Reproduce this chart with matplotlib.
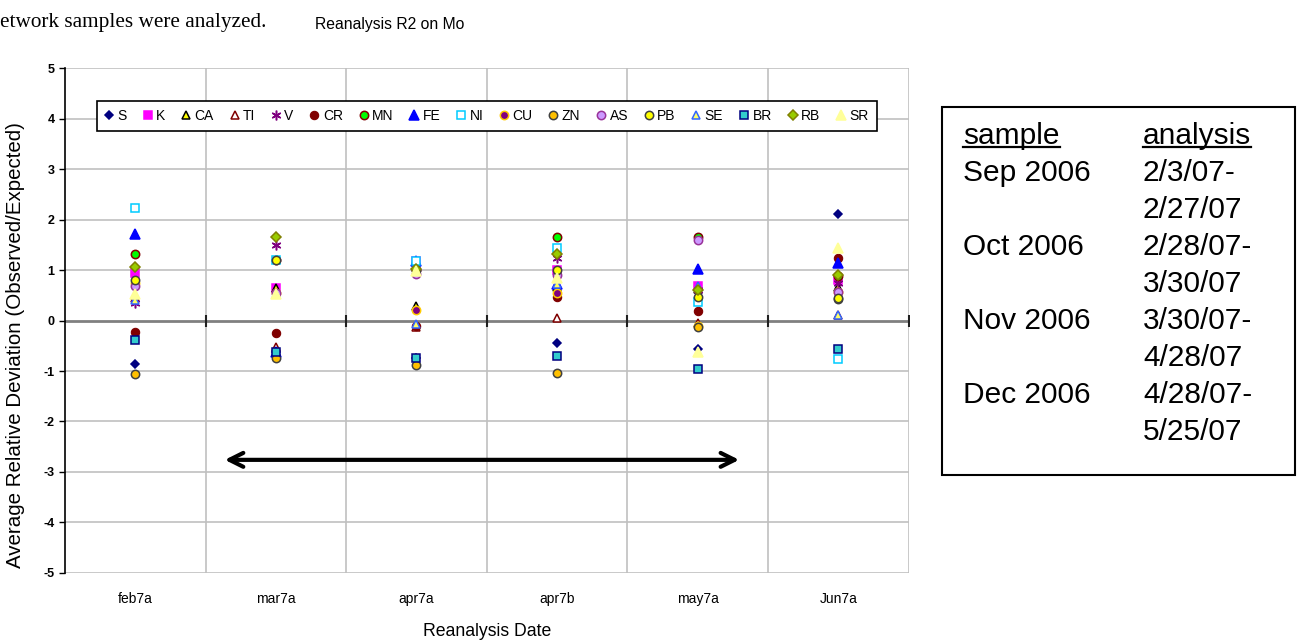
import numpy as np
import matplotlib
matplotlib.use('Agg')
import matplotlib.pyplot as plt
from matplotlib.patches import Rectangle
from matplotlib.lines import Line2D

plt.rcParams['font.family'] = ['Liberation Sans', 'DejaVu Sans']

dates = ['feb7a', 'mar7a', 'apr7a', 'apr7b', 'may7a', 'Jun7a']

# values, one list per element
S  = [-0.86, -0.62, -0.74, -0.45, -0.57, 2.11]
K  = [0.95, 0.64, 1.18, 1.01, 0.68, 0.80]
CA = [0.50, 0.64, 0.28, 0.66, 0.62, 0.67]
TI = [0.45, -0.52, -0.12, 0.05, -0.04, 0.11]
V  = [0.35, 1.49, 0.95, 1.23, 0.60, 0.75]
CR = [-0.22, -0.25, -0.10, 0.46, 0.19, 1.24]
MN = [1.31, 1.20, 1.00, 1.65, 1.66, 0.88]
FE = [1.71, -0.62, 1.18, 0.72, 1.02, 1.13]
NI = [2.22, 1.20, 1.18, 1.43, 0.36, -0.77]
CU = [0.75, 0.55, 0.20, 0.54, -0.10, 0.57]
ZN = [-1.05, -0.75, -0.88, -1.03, -0.12, 0.42]
AS = [0.68, 0.55, 0.92, 0.90, 1.59, 0.57]
PB = [0.80, 1.20, 1.00, 1.00, 0.47, 0.45]
SE = [0.41, 0.52, -0.07, 0.72, 0.68, 0.11]
BR = [-0.38, -0.62, -0.74, -0.70, -0.97, -0.57]
RB = [1.07, 1.66, 1.02, 1.32, 0.60, 0.90]
SR = [0.52, 0.52, 0.98, 0.84, -0.62, 1.43]

series = [('S', S), ('K', K), ('CA', CA), ('TI', TI), ('V', V), ('CR', CR),
          ('MN', MN), ('FE', FE), ('NI', NI), ('CU', CU), ('ZN', ZN),
          ('AS', AS), ('PB', PB), ('SE', SE), ('BR', BR), ('RB', RB), ('SR', SR)]

# marker, face, edge, size
styles = {
    'S':  ('D', '#000080', '#000080', 4.5),
    'K':  ('s', '#FF00FF', '#FF00FF', 5.5),
    'CA': ('^', '#FFFF00', '#000000', 6),
    'TI': ('^', '#FFFFFF', '#800000', 6),
    'V':  ((6, 2, 0), '#800080', '#800080', 7),
    'CR': ('o', '#800000', '#800000', 6),
    'MN': ('o', '#00FF00', '#800000', 6),
    'FE': ('^', '#0000FF', '#0000FF', 6.5),
    'NI': ('s', '#FFFFFF', '#00CCFF', 5.5),
    'CU': ('o', '#800080', '#FFCC00', 6),
    'ZN': ('o', '#FFC000', '#404040', 6),
    'AS': ('o', '#CC99FF', '#993399', 6),
    'PB': ('o', '#FFFF00', '#404040', 6),
    'SE': ('^', '#FFFF66', '#3366FF', 6),
    'BR': ('s', '#33CCCC', '#000080', 5.5),
    'RB': ('D', '#99CC00', '#808000', 5),
    'SR': ('^', '#FFFF99', '#FFFF99', 6.5),
}

fig = plt.figure(figsize=(12.98, 6.43), dpi=100)
ax = fig.add_axes([0.050, 0.109, 0.650, 0.785])

x = np.arange(1, len(dates) + 1)
for i, (name, vals) in enumerate(series):
    m, fc, ec, ms = styles[name]
    ax.plot(x, vals, linestyle='none', marker=m, markerfacecolor=fc,
            markeredgecolor=ec, markersize=ms, markeredgewidth=1.1 if m != 'o' or fc != ec else 0.8,
            label=name, zorder=3 + i)

ax.set_xlim(0.5, len(dates) + 0.5)
ax.set_ylim(-5, 5)
ax.set_yticks(np.arange(-5, 6))
ax.set_yticklabels([str(v) for v in range(-5, 6)], fontweight='bold', fontsize=9)
ax.set_xticks(x)
ax.set_xticklabels(dates, fontsize=10)
ax.tick_params(axis='x', length=0, pad=14)
ax.tick_params(axis='y', length=4, direction='out', width=1)

# gridlines
for yv in range(-5, 6):
    if yv != 0:
        ax.axhline(yv, color='#c0c0c0', lw=1.2, zorder=0)
for xv in np.arange(1.5, len(dates) + 0.6, 1):
    ax.axvline(xv, color='#c0c0c0', lw=1.2, zorder=0)
ax.axhline(0, color='#808080', lw=2, zorder=1)
ax.plot(np.arange(1.5, len(dates) + 0.6, 1), np.zeros(len(dates)), linestyle='none',
        marker='|', markersize=9, color='#202020', markeredgewidth=1.5, zorder=2)

for sp in ['top', 'right', 'bottom']:
    ax.spines[sp].set_visible(False)
ax.spines['left'].set_color('black')
ax.spines['left'].set_linewidth(1.2)

ax.set_ylabel('Average Relative Deviation (Observed/Expected)', fontsize=14.8)
ax.yaxis.label.set_verticalalignment('center')
ax.yaxis.set_label_coords(-0.059, 0.452)
ax.set_xlabel('Reanalysis Date', fontsize=12.7, labelpad=12)

leg = ax.legend(loc='center', bbox_to_anchor=(0.0296, 0.851, 0.941, 0.109), mode='expand',
                ncol=17, fontsize=10, frameon=True, fancybox=False, framealpha=1,
                edgecolor='black', handlelength=0.6, handletextpad=0.3, columnspacing=0.5,
                borderpad=0.6)
leg.get_frame().set_linewidth(1.2)
leg.set_zorder(30)

ax.annotate('', xy=(5.315, -2.76), xytext=(1.617, -2.76),
            arrowprops=dict(arrowstyle='<->', lw=3, color='black', mutation_scale=25),
            zorder=25)

# top text fragments
fig.text(0.0, 1 - 22 / 643, 'etwork samples were analyzed.', fontsize=15.3,
         family='Liberation Serif', va='center', ha='left')
fig.text(315 / 1298, 1 - 24 / 643, 'Reanalysis R2 on Mo', fontsize=11.3,
         va='center', ha='left')

# right box with sample / analysis dates
fig.patches.append(Rectangle((942 / 1298, 1 - 475 / 643), 353 / 1298, 368 / 643,
                             transform=fig.transFigure, fill=False, edgecolor='black', lw=1.5))
left_col = ['sample', 'Sep 2006', '', 'Oct 2006', '', 'Nov 2006', '', 'Dec 2006', '']
right_col = ['analysis', '2/3/07-', '2/27/07', '2/28/07-', '3/30/07', '3/30/07-', '4/28/07',
             '4/28/07-', '5/25/07']
heads = []
for k in range(len(left_col)):
    yy = 1 - (136 + 37.0 * k) / 643
    t1 = fig.text(963 / 1298, yy, left_col[k], fontsize=21.5, va='center', ha='left')
    t2 = fig.text(1143 / 1298, yy, right_col[k], fontsize=21.5, va='center', ha='left')
    if k == 0:
        heads = [t1, t2]

fig.canvas.draw()
r = fig.canvas.get_renderer()
for t in heads:
    bb = t.get_window_extent(r).transformed(fig.transFigure.inverted())
    fig.lines.append(Line2D([bb.x0, bb.x1], [bb.y0 + 0.004, bb.y0 + 0.004],
                            transform=fig.transFigure, color='black', lw=1.6))

fig.savefig('out.png', dpi=100)
